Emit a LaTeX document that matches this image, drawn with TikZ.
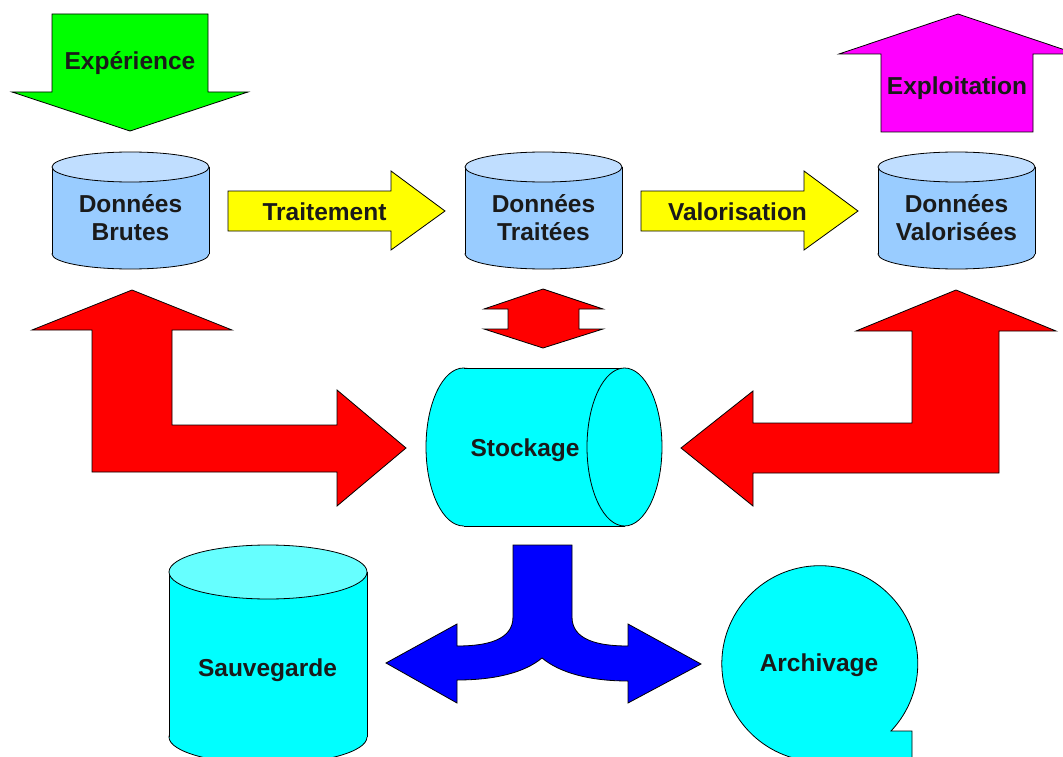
\documentclass[tikz,border=0pt]{standalone}
\usepackage{fontspec}
\setmainfont{Liberation Sans}
\definecolor{dbblue}{HTML}{99CCFF}
\definecolor{dbtop}{HTML}{C0DEFF}
\definecolor{storecyan}{HTML}{00FFFF}
\definecolor{cyantop}{HTML}{66FFFF}
\definecolor{inputgreen}{HTML}{00FF00}
\definecolor{outputpink}{HTML}{FF00FF}
\definecolor{stepyellow}{HTML}{FFFF00}
\definecolor{linkred}{HTML}{FF0000}
\definecolor{splitblue}{HTML}{0000FF}
\definecolor{txtgrey}{HTML}{1A1A1A}
\begin{document}
\begin{tikzpicture}[x=1pt, y=-1pt,
    shape line/.style={draw=black, line width=0.8pt, line join=miter},
    txt/.style={text=txtgrey, font=\fontsize{24.5}{28}\selectfont\bfseries, align=center, inner sep=0pt}]
  \useasboundingbox (0,0) rectangle (1063,757);
  \clip (0,0) rectangle (1063,757);
  % Input / output arrows
  \filldraw[shape line, fill=inputgreen] (52,14) -- (208,14) -- (208,92) -- (248,92) -- (130,131) -- (12,92) -- (52,92) -- cycle;
  \node (experience) [txt, anchor=base] at (130,70) {Expérience};
  \filldraw[shape line, fill=outputpink] (958,14) -- (1077,54) -- (1033,54) -- (1033,132) -- (881,132) -- (881,54) -- (839,54) -- cycle;
  \node (exploitation) [txt, anchor=base] at (957,95) {Exploitation};
  % Database cylinders
  \foreach \cx/\nm/\txt in {130.5/brutes/Brutes, 543.5/traitees/Traitées, 956.5/valorisees/Valorisées} {
    \filldraw[shape line, fill=dbblue] (\cx,254) ellipse (78.5 and 15);
    \fill[dbblue] (\cx-78.5,167) rectangle (\cx+78.5,254);
    \draw[shape line] (\cx-78.5,167) -- (\cx-78.5,254) (\cx+78.5,167) -- (\cx+78.5,254);
    \filldraw[shape line, fill=dbtop] (\cx,167) ellipse (78.5 and 15);
    \node (\nm) [txt] at (\cx,218) {Données\\\txt};
  }
  % Processing arrows
  \foreach \dx/\nm/\txt in {0/traitement/Traitement, 413/valorisation/Valorisation} {
    \filldraw[shape line, fill=stepyellow] (228+\dx,191) -- (391+\dx,191) -- (391+\dx,171) -- (445+\dx,211) -- (391+\dx,250) -- (391+\dx,231) -- (228+\dx,231) -- cycle;
    \node (\nm) [txt, anchor=base] at (324.5+\dx,220) {\txt};
  }
  % Storage links
  \filldraw[shape line, fill=linkred] (543,289) -- (603,309) -- (579,309) -- (579,329) -- (603,329) -- (543,348) -- (484,329) -- (508,329) -- (508,309) -- (484,309) -- cycle;
  \filldraw[shape line, fill=linkred] (132,290) -- (232,330) -- (172,330) -- (172,425) -- (337,425) -- (337,390) -- (406,448) -- (337,506) -- (337,472) -- (92,472) -- (92,330) -- (32,330) -- cycle;
  \filldraw[shape line, fill=linkred] (956,290) -- (1056,331) -- (999,331) -- (999,473) -- (753,473) -- (753,506) -- (681,448) -- (753,391) -- (753,423) -- (912,423) -- (912,331) -- (856,331) -- cycle;
  % Stockage
  \filldraw[shape line, fill=storecyan] (463.5,447) ellipse (37.5 and 79);
  \fill[storecyan] (463.5,368) rectangle (624.5,526);
  \draw[shape line] (463.5,368) -- (624.5,368) (463.5,526) -- (624.5,526);
  \filldraw[shape line, fill=storecyan] (624.5,447) ellipse (37.5 and 79);
  \node (stockage) [txt, anchor=base] at (525,456) {Stockage};
  % Split arrow
  \filldraw[shape line, fill=splitblue] (513,545) -- (572,545) -- (572,617) .. controls (572,640) and (598,646) .. (628,646) -- (628,624) -- (701,664) -- (628,703) -- (628,681) .. controls (590,681) and (560,673) .. (542,658) .. controls (524,673) and (494,680) .. (457,680) -- (457,703) -- (386,663) -- (457,624) -- (457,646) .. controls (487,646) and (513,640) .. (513,617) -- cycle;
  % Sauvegarde
  \filldraw[shape line, fill=storecyan] (268,737) ellipse (99 and 27);
  \fill[storecyan] (169,572) rectangle (367,737);
  \draw[shape line] (169,572) -- (169,737) (367,572) -- (367,737);
  \filldraw[shape line, fill=cyantop] (268,572) ellipse (99 and 27);
  \node (sauvegarde) [txt, anchor=base] at (267.5,676) {Sauvegarde};
  % Archivage
  \filldraw[shape line, fill=storecyan] (891,731) arc (43.4:-270:98) -- (912,761.7) -- (912,731) -- cycle;
  \node (archivage) [txt, anchor=base] at (819,671) {Archivage};
\end{tikzpicture}
\end{document}
